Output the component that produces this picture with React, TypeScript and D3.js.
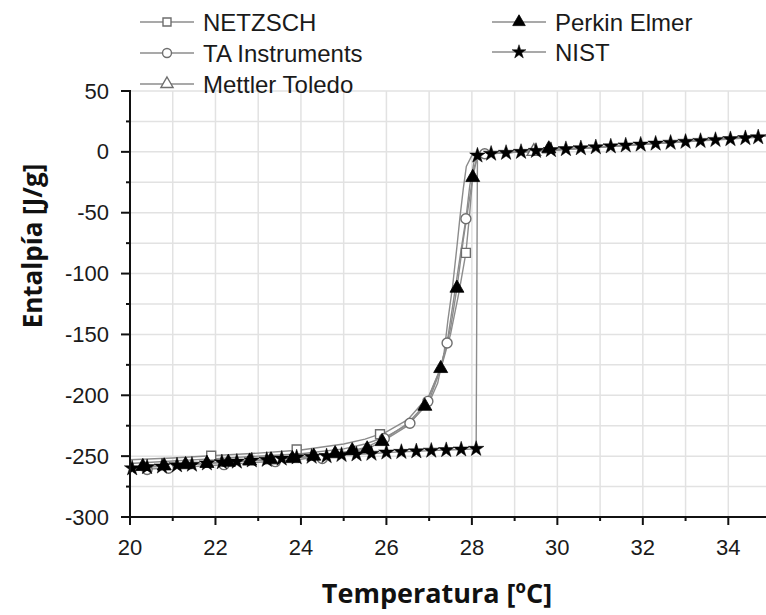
import React from 'react';
import * as d3 from 'd3';

const W = 766;
const H = 615;

const xTicks = [20, 22, 24, 26, 28, 30, 32, 34];
const yTicks = [50, 0, -50, -100, -150, -200, -250, -300];
const xGrid = [20, 21, 22, 23, 24, 25, 26, 27, 28, 29, 30, 31, 32, 33, 34, 35];
const yGrid = [50, 25, 0, -25, -50, -75, -100, -125, -150, -175, -200, -225, -250, -275, -300];

// NETZSCH
const netzschX = [20, 21, 22, 23, 24, 25, 25.5, 26, 26.5, 27, 27.3, 27.5, 27.7, 27.86, 27.95, 28.03, 28.15, 28.4, 29.5, 31, 33, 34.9];
const netzschY = [-253, -251.5, -249.5, -247.5, -245, -240, -236, -230, -220, -200, -175, -150, -115, -83, -50, -15, -3, -1.5, 0.7, 4, 8.7, 13];
const netzschMX = [21.9, 23.9, 25.85, 27.86];
const netzschMY = [-249.7, -244.5, -232, -83];

// TA Instruments
const taX = [20, 21, 22, 23, 24, 25, 25.5, 26, 26.5, 27, 27.2, 27.42, 27.6, 27.75, 27.86, 27.95, 28.05, 28.3, 29.5, 31, 33, 34.9];
const taY = [-261.5, -259.5, -257.5, -255, -252.5, -247, -243, -235, -223, -204, -185, -157, -115, -80, -55, -28, -8, -1.5, 0.5, 4, 8.6, 13];
const taMX = [20.4, 20.9, 22.2, 23.4, 24.5, 25.95, 26.55, 26.97, 27.42, 27.86, 28.3];
const taMY = [-261, -260, -257, -254.5, -252, -235.5, -223, -205, -157, -55, -1.5];

// Mettler Toledo
const mettX = [20, 21, 22, 23, 24, 25, 25.5, 26, 26.5, 27, 27.2, 27.35, 27.44, 27.55, 27.65, 27.72, 27.8, 27.87, 28.0, 28.3, 29.45, 31, 33, 34.9];
const mettY = [-256, -254, -252, -250, -248, -244, -240, -234, -224, -206, -190, -165, -138, -110, -78, -54, -30, -12, -3, -1.5, 0.3, 4, 8.6, 13];
const mettMX = [29.45];
const mettMY = [0.3];

// Perkin Elmer
const perkX = [20, 21, 22, 23, 24, 25, 25.55, 25.9, 26.5, 26.9, 27.27, 27.5, 27.65, 27.8, 27.93, 28.02, 28.12, 28.35, 29.8, 31, 33, 34.9];
const perkY = [-259, -257.5, -255.5, -253.5, -251, -247, -244, -238, -225, -209, -178, -145, -112, -72, -42, -21, -5, -1.5, 2, 4, 8.6, 13];
const perkMX = [20.3, 20.8, 21.3, 21.8, 22.3, 22.8, 23.3, 23.8, 24.3, 24.8, 25.2, 25.55, 25.9, 26.9, 27.27, 27.65, 28.02, 29.8];
const perkMY = [-258.5, -258, -257, -256, -255, -254, -253, -252, -250, -248, -245.5, -244, -238, -209, -178, -112, -21, 2.5];

// NIST
const nistX = [20.05, 20.4, 20.75, 21.1, 21.45, 21.8, 22.15, 22.5, 22.85, 23.2, 23.55, 23.9, 24.25, 24.6, 24.95, 25.3, 25.65, 26.0, 26.35, 26.7, 27.05, 27.4, 27.75, 28.1, 28.13, 28.45, 28.8, 29.15, 29.5, 29.85, 30.2, 30.55, 30.9, 31.25, 31.6, 31.95, 32.3, 32.65, 33.0, 33.35, 33.7, 34.05, 34.4, 34.7];
const nistY = [-260, -259, -258.5, -257.5, -257, -256, -255, -254.5, -253.5, -253, -252, -251, -250.5, -250, -249, -248.5, -248, -247, -246.5, -246, -245.5, -245, -244.5, -244, -3, -1.5, -0.8, 0, 0.8, 1.5, 2.3, 3, 3.8, 4.5, 5.3, 6, 6.8, 7.5, 8.3, 9, 9.8, 10.5, 11.3, 12];

const legendNames = ['NETZSCH', 'TA Instruments', 'Mettler Toledo', 'Perkin Elmer', 'NIST'];

const LINE_COLOR = '#8c8c8c';
const OPEN_STROKE = '#6e6e6e';
const TICK_FONT = '"Liberation Sans", Arial, sans-serif';
const TITLE_FONT = '"Open Sans", "DejaVu Sans", sans-serif';

type Kind = 'square' | 'circle' | 'triangle' | 'ftriangle' | 'star';

function Marker({ kind, cx, cy, s = 1 }: { kind: Kind; cx: number; cy: number; s?: number }) {
  if (kind === 'square') {
    const p = d3.symbol().type(d3.symbolSquare).size(80 * s)()!;
    return <path d={p} transform={`translate(${cx},${cy})`} fill="#fff" stroke={OPEN_STROKE} strokeWidth={1.4} />;
  }
  if (kind === 'circle') {
    return <circle cx={cx} cy={cy} r={5 * Math.sqrt(s)} fill="#fff" stroke={OPEN_STROKE} strokeWidth={1.4} />;
  }
  if (kind === 'triangle') {
    const p = d3.symbol().type(d3.symbolTriangle).size(80 * s)()!;
    return <path d={p} transform={`translate(${cx},${cy})`} fill="#fff" stroke={OPEN_STROKE} strokeWidth={1.4} />;
  }
  if (kind === 'ftriangle') {
    const p = d3.symbol().type(d3.symbolTriangle).size(85 * s)()!;
    return <path d={p} transform={`translate(${cx},${cy})`} fill="#000" stroke="#000" strokeWidth={0.8} />;
  }
  const p = d3.symbol().type(d3.symbolStar).size(75 * s)()!;
  return <path d={p} transform={`translate(${cx},${cy})`} fill="#000" stroke="#000" strokeWidth={0.5} />;
}

export default function App() {
  const x = d3.scaleLinear().domain([20, 34]).range([130, 728.3]);
  const y = d3.scaleLinear().domain([50, -300]).range([91, 517]);
  const mk = (xs: number[], ys: number[]) =>
    d3.line<number>().x((i) => x(xs[i])).y((i) => y(ys[i]))(xs.map((_, i) => i)) || '';

  const series: { lx: number[]; ly: number[]; mx: number[]; my: number[]; kind: Kind }[] = [
    { lx: mettX, ly: mettY, mx: mettMX, my: mettMY, kind: 'triangle' },
    { lx: netzschX, ly: netzschY, mx: netzschMX, my: netzschMY, kind: 'square' },
    { lx: taX, ly: taY, mx: taMX, my: taMY, kind: 'circle' },
    { lx: perkX, ly: perkY, mx: perkMX, my: perkMY, kind: 'ftriangle' },
    { lx: nistX, ly: nistY, mx: nistX, my: nistY, kind: 'star' },
  ];

  const left = 130;
  const bottom = 517;
  const top = 91;

  const legendItems: { name: string; kind: Kind; lx: number; ly: number }[] = [
    { name: legendNames[0], kind: 'square', lx: 140, ly: 22 },
    { name: legendNames[1], kind: 'circle', lx: 140, ly: 53 },
    { name: legendNames[2], kind: 'triangle', lx: 140, ly: 84 },
    { name: legendNames[3], kind: 'ftriangle', lx: 492, ly: 22 },
    { name: legendNames[4], kind: 'star', lx: 492, ly: 52 },
  ];

  return (
    <svg width={W} height={H} style={{ position: 'absolute', left: 0, top: 0, background: '#fff' }}>
      <rect x={0} y={0} width={W} height={H} fill="#fff" />
      {/* grid */}
      <g stroke="#e2e2e2" strokeWidth={1.5}>
        {xGrid.map((v) => (
          <line key={'gx' + v} x1={x(v)} x2={x(v)} y1={top} y2={bottom} />
        ))}
        {yGrid.map((v) => (
          <line key={'gy' + v} x1={left} x2={W} y1={y(v)} y2={y(v)} />
        ))}
      </g>
      {/* series lines */}
      <g fill="none" stroke={LINE_COLOR} strokeWidth={1.4}>
        {series.map((s, i) => (
          <path key={'l' + i} d={mk(s.lx, s.ly)} />
        ))}
      </g>
      {/* markers */}
      {series.map((s, i) => (
        <g key={'m' + i}>
          {s.mx.map((v, j) => (
            <Marker key={j} kind={s.kind} cx={x(v)} cy={y(s.my[j])} />
          ))}
        </g>
      ))}
      {/* axes */}
      <g stroke="#111" strokeWidth={2}>
        <line x1={left} x2={left} y1={top - 1} y2={bottom + 1} />
        <line x1={left - 1} x2={W} y1={bottom} y2={bottom} />
        {yGrid.map((v) => (
          <line key={'yt' + v} x1={left - (v % 50 === 0 ? 9 : 4)} x2={left} y1={y(v)} y2={y(v)} />
        ))}
        {xGrid.map((v) => (
          <line key={'xt' + v} x1={x(v)} x2={x(v)} y1={bottom} y2={bottom + (v % 2 === 0 ? 8 : 4)} />
        ))}
      </g>
      {/* tick labels */}
      <g fontFamily={TICK_FONT} fontSize={22} fill="#1a1a1a">
        {yTicks.map((v) => (
          <text key={'yl' + v} x={109} y={y(v)} textAnchor="end" dominantBaseline="central">
            {v}
          </text>
        ))}
        {xTicks.map((v) => (
          <text key={'xl' + v} x={x(v)} y={555} textAnchor="middle">
            {v}
          </text>
        ))}
      </g>
      {/* axis titles */}
      <text x={437} y={603} textAnchor="middle" fontFamily={TITLE_FONT} fontWeight="bold" fontSize={27} fill="#111">
        Temperatura [ºC]
      </text>
      <text
        transform={`translate(42,246) rotate(-90)`}
        textAnchor="middle"
        fontFamily={TITLE_FONT}
        fontWeight="bold"
        fontSize={26}
        fill="#111"
      >
        Entalpía [J/g]
      </text>
      {/* legend */}
      {legendItems.map((it) => (
        <g key={it.name}>
          <line x1={it.lx} x2={it.lx + 54} y1={it.ly} y2={it.ly} stroke={LINE_COLOR} strokeWidth={1.6} />
          <Marker kind={it.kind} cx={it.lx + 27} cy={it.ly} s={0.8} />
          <text x={it.lx + 63} y={it.ly} dominantBaseline="central" fontFamily={TICK_FONT} fontSize={24} fill="#1a1a1a">
            {it.name}
          </text>
        </g>
      ))}
    </svg>
  );
}
